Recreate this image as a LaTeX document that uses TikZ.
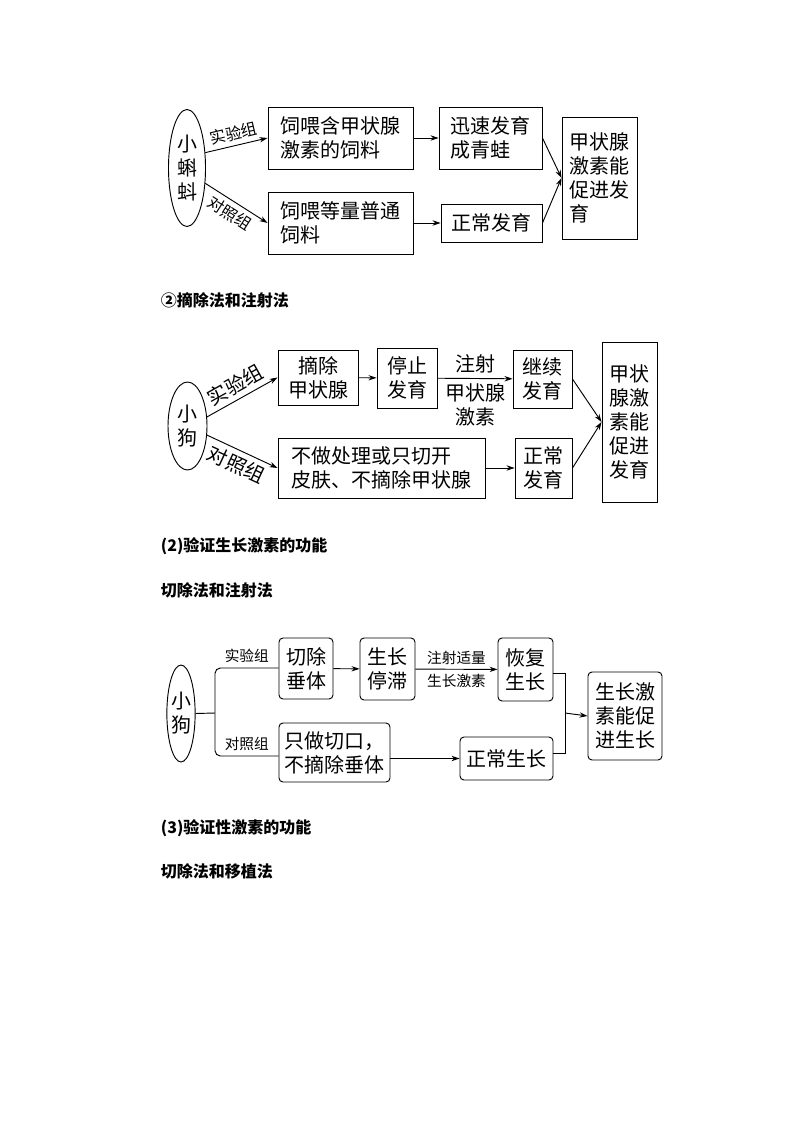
\documentclass[tikz,border=0pt]{standalone}
\usepackage{fontspec}
\setmainfont{Noto Sans CJK SC}
\usetikzlibrary{arrows.meta, positioning, shapes.geometric}
\newcommand\pxu{0.75pt}

\begin{document}
\begin{tikzpicture}[x=0.75pt, y=-0.75pt, >={Stealth[length=6pt,width=4pt]},
  font=\fontsize{15}{18}\selectfont, line width=0.7pt,
  box/.style={draw, rectangle, inner sep=0pt, align=left},
  rbox/.style={box, rounded corners=3pt},
  oval/.style={draw, ellipse, inner sep=0pt, align=center},
  sz/.style 2 args={minimum width=#1*\pxu, minimum height=#2*\pxu},
  tag/.style={font=\fontsize{12}{14}\selectfont},
  small/.style={font=\fontsize{11}{13}\selectfont},
  title/.style={font=\bfseries\fontsize{12}{14}\selectfont, anchor=west}]
  \useasboundingbox (0,0) rectangle (794,1123);

  % first picture
  \node[oval, sz={37}{117}] (0) at (187,168) {小\\蝌\\蚪};
  \node[box, sz={145}{62}] (1) at (340.5,138) {饲喂含甲状腺\\激素的饲料};
  \node[box, sz={103}{62}] (2) at (490.5,138) {迅速发育\\成青蛙};
  \node[box, sz={145}{62}] (3) at (340.5,223) {饲喂等量普通\\饲料};
  \node[box, sz={101}{38}] (4) at (491.5,223) {正常发育};
  \node[box, sz={75}{122}] (5) at (599.5,178) {甲状腺\\激素能\\促进发\\育};
  \draw[->] (0.40) -- node[tag, sloped, above] {实验组} (1.west);
  \draw[->] (0.-40) -- node[tag, sloped, below] {对照组} (3.west);
  \path[->]
    (1) edge (2)
    (3) edge (4)
    (2.east) edge (5.west)
    (4.east) edge (5.west);

  \node[title] (t1) at (156,300) {②摘除法和注射法};

  % second picture
  \node[oval, sz={39}{88}] (6) at (187.5,426) {小\\狗};
  \node[box, sz={80}{55}, align=center] (7) at (318,377.5) {摘除\\甲状腺};
  \node[box, sz={60}{60}] (8) at (407,378) {停止\\发育};
  \node[box, sz={59}{58}] (9) at (542.5,379) {继续\\发育};
  \node[box, sz={207}{60}] (10) at (381.5,468) {不做处理或只切开\\皮肤、不摘除甲状腺};
  \node[box, sz={57}{60}] (11) at (543.5,468) {正常\\发育};
  \node[box, sz={55}{160}] (12) at (629.5,422) {甲状\\腺激\\素能\\促进\\发育};
  \draw[->] (6.25) -- node[sloped, above] {实验组} (7.west);
  \draw[->] (6.-25) -- node[sloped, below] {对照组} (10.west);
  \path[->]
    (7) edge (8)
    (8) edge node[above] {注射} node[below, align=center] {甲状腺\\激素} (9)
    (10.east |- 11) edge (11)
    (9.east) edge (12.west)
    (11.east) edge (12.west);

  \node[title] (t2) at (156,546) {(2)验证生长激素的功能};
  \node[title] (t3) at (156,590) {切除法和注射法};

  % third picture
  \node[oval, sz={28}{97}] (13) at (181,713.5) {小\\狗};
  \node[rbox, sz={54}{61}] (14) at (306,668.5) {切除\\垂体};
  \node[rbox, sz={55}{62}] (15) at (387.5,669) {生长\\停滞};
  \node[rbox, sz={55}{63}] (16) at (525.5,669.5) {恢复\\生长};
  \node[rbox, sz={111}{59}] (17) at (334.5,752.5) {只做切口，\\不摘除垂体};
  \node[rbox, sz={93}{43}] (18) at (506.5,758.5) {正常生长};
  \node[rbox, sz={74}{88}] (19) at (625,716) {生长激\\素能促\\进生长};
  \coordinate (a) at (215,713);
  \coordinate (b) at (565,713);
  \draw (13.east) -- (a);
  \draw[rounded corners=4pt] (14.west |- 0,668) -- node[small, above] {实验组} (215,668)
    -- (215,756) -- node[small, above] {对照组} (17.west |- 0,756);
  \path[->]
    (14) edge (15)
    (15) edge node[small, above] {注射适量} node[small, below] {生长激素} (16)
    (17.east |- 18) edge (18);
  \draw (16.east |- 0,673) -- (565,673) -- (565,753) -- (18.east |- 0,753);
  \draw[->] (b) -- (19.west);

  \node[title] (t4) at (156,828) {(3)验证性激素的功能};
  \node[title] (t5) at (156,871) {切除法和移植法};
\end{tikzpicture}
\end{document}
